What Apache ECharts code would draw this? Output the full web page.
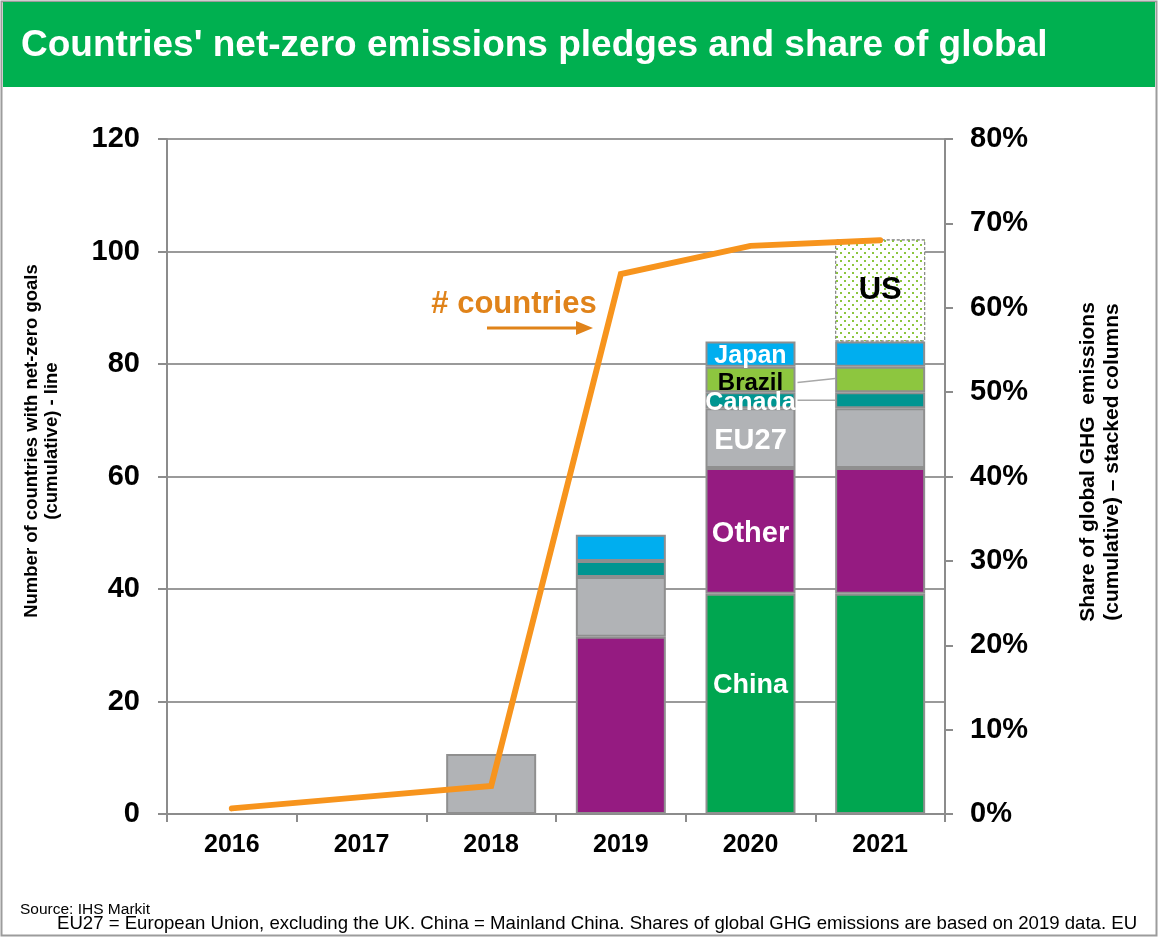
<!DOCTYPE html>
<html>
<head>
<meta charset="utf-8">
<script src="https://cdn.jsdelivr.net/npm/echarts@6/dist/echarts.min.js"></script>
<style>
  html, body { margin: 0; padding: 0; background: #fff; }
  #chart { width: 1158px; height: 938px; }
</style>
</head>
<body>
<div id="chart"></div>
<script>
// Years on the horizontal axis
const years = ['2016', '2017', '2018', '2019', '2020', '2021'];

// Cumulative number of countries with net-zero goals (left axis)
const countries = [1, 3, 5, 96, 101, 102];

// Share of global GHG emissions, % (right axis, stacked columns)
const china  = ['-', '-', '-', '-', 26.1, 26.1];
const other  = ['-', '-', '-', 21.0, 14.9, 14.9];
const eu27   = ['-', '-', 7.1, 7.1, 7.1, 7.1];
const canada = ['-', '-', '-', 1.9, 1.9, 1.9];
const brazil = ['-', '-', '-', '-', 3.0, 3.0];
const japan  = ['-', '-', '-', 3.1, 3.0, 3.0];
const us     = ['-', '-', '-', '-', '-', 12.1];

// Axis ticks
const leftTicks = { min: 0, max: 120, interval: 20 };
const rightTicks = { min: 0, max: 80, interval: 10 };

const FONT = 'Liberation Sans, Arial, sans-serif';
const NARROW = 'Liberation Sans Narrow, Arial Narrow, sans-serif';
const BORDER = '#8f8f8f';

// Attach an inside label to a single year of a series
function withLabel(values, idx, text, size, color, dy) {
  return values.map((v, i) => {
    if (i !== idx) return v;
    return {
      value: v,
      label: {
        show: true, position: 'inside', formatter: text, offset: [0, dy || 0],
        fontFamily: FONT, fontWeight: 'bold', fontSize: size, color: color
      }
    };
  });
}

function barSeries(name, data, color) {
  return {
    name, type: 'bar', stack: 'ghg', yAxisIndex: 1, barWidth: 90,
    data,
    itemStyle: { color, borderColor: BORDER, borderWidth: 2 },
    emphasis: { disabled: true },
    z: 2
  };
}

const chart = echarts.init(document.getElementById('chart'), null, { renderer: 'canvas' });

const option = {
  animation: false,
  backgroundColor: '#fff',
  grid: { left: 167, right: 213, top: 139, bottom: 124, containLabel: false },
  xAxis: {
    type: 'category',
    data: years,
    boundaryGap: true,
    axisLine: { lineStyle: { color: '#8c8c8c', width: 2 } },
    axisTick: { show: true, interval: 0, length: 8, lineStyle: { color: '#8c8c8c', width: 2 } },
    axisLabel: { fontFamily: FONT, fontWeight: 'bold', fontSize: 25, color: '#000', margin: 19 }
  },
  yAxis: [
    {
      type: 'value', position: 'left',
      min: leftTicks.min, max: leftTicks.max, interval: leftTicks.interval,
      axisLine: { show: true, lineStyle: { color: '#8c8c8c', width: 2 } },
      axisTick: { show: true, length: 9, lineStyle: { color: '#8c8c8c', width: 2 } },
      splitLine: { show: true, lineStyle: { color: '#9a9a9a', width: 2 } },
      axisLabel: { fontFamily: FONT, fontWeight: 'bold', fontSize: 29, color: '#000', margin: 27 }
    },
    {
      type: 'value', position: 'right',
      min: rightTicks.min, max: rightTicks.max, interval: rightTicks.interval,
      axisLine: { show: true, lineStyle: { color: '#8c8c8c', width: 2 } },
      axisTick: { show: true, length: 8, lineStyle: { color: '#8c8c8c', width: 2 } },
      splitLine: { show: false },
      axisLabel: { fontFamily: FONT, fontWeight: 'bold', fontSize: 29, color: '#000', margin: 25, formatter: '{value}%' }
    }
  ],
  series: [
    barSeries('China', withLabel(china, 4, 'China', 27, '#fff', -18), '#00A650'),
    barSeries('Other', withLabel(other, 4, 'Other', 29, '#fff', 3), '#951B81'),
    barSeries('EU27', withLabel(eu27, 4, 'EU27', 29, '#fff', 3), '#B1B3B6'),
    barSeries('Canada', withLabel(canada, 4, 'Canada', 25, '#fff', 3), '#009591'),
    barSeries('Brazil', withLabel(brazil, 4, 'Brazil', 24, '#000', 4), '#8DC63F'),
    barSeries('Japan', withLabel(japan, 4, 'Japan', 25, '#fff', 2), '#00AEEF'),
    {
      name: 'US', type: 'bar', stack: 'ghg', yAxisIndex: 1, barWidth: 90,
      data: withLabel(us, 5, 'US', 31, '#000', 0),
      itemStyle: {
        color: '#fff', borderColor: '#8a8a8a', borderWidth: 1, borderType: [3, 2],
        decal: {
          symbol: 'rect', symbolSize: 1, color: '#8DC63F',
          dashArrayX: [[2, 5.7], [0, 3.85, 2, 1.85]],
          dashArrayY: [2, 1.8]
        }
      },
      emphasis: { disabled: true },
      z: 2
    },
    {
      name: '# countries', type: 'line', yAxisIndex: 0,
      data: countries,
      symbol: 'none',
      lineStyle: { color: '#F7941D', width: 6, cap: 'round', join: 'miter' },
      itemStyle: { color: '#F7941D' },
      emphasis: { disabled: true },
      z: 5
    }
  ]
};

chart.setOption(option);

// Overlay: title band, frame, axis titles, annotations, notes
function buildGraphics() {
  const gfx = [];
  gfx.push({
    type: 'rect', z: 0, silent: true,
    shape: { x: 1.5, y: 1.5, width: 1155, height: 934 },
    style: { fill: null, stroke: '#9c9c9c', lineWidth: 2 }
  });
  gfx.push({
    type: 'rect', z: 1, silent: true,
    shape: { x: 3, y: 2, width: 1152, height: 85 },
    style: { fill: '#00B050' }
  });
  gfx.push({
    type: 'text', z: 2, silent: true, x: 21, y: 46,
    style: {
      text: "Countries' net-zero emissions pledges and share of global",
      fill: '#fff', font: 'bold 37px ' + FONT, textVerticalAlign: 'middle'
    }
  });
  // Left axis title
  gfx.push({
    type: 'text', silent: true, x: 42, y: 441, rotation: Math.PI / 2,
    style: {
      text: 'Number of countries with net-zero goals\n(cumulative) - line',
      fill: '#000', font: 'bold 18.5px ' + FONT, align: 'center', verticalAlign: 'middle',
      lineHeight: 20
    }
  });
  // Right axis title
  gfx.push({
    type: 'text', silent: true, x: 1100, y: 462, rotation: Math.PI / 2,
    style: {
      text: 'Share of global GHG  emissions\n(cumulative) \u2013 stacked columns',
      fill: '#000', font: 'bold 21px ' + FONT, align: 'center', verticalAlign: 'middle',
      lineHeight: 24
    }
  });
  // "# countries" callout with arrow
  gfx.push({
    type: 'text', silent: true, x: 514, y: 304,
    style: {
      text: '# countries', fill: '#E0831A', font: 'bold 31px ' + FONT,
      align: 'center', verticalAlign: 'middle'
    }
  });
  gfx.push({
    type: 'line', silent: true,
    shape: { x1: 487, y1: 328, x2: 578, y2: 328 },
    style: { stroke: '#E0831A', lineWidth: 3 }
  });
  gfx.push({
    type: 'polygon', silent: true,
    shape: { points: [[593, 328], [576, 321], [576, 335]] },
    style: { fill: '#E0831A' }
  });
  // Leader lines from the 2020 labels to the 2021 column
  const segCenter = (vals, idx) => {
    let base = 0;
    const stackOrder = [china, other, eu27, canada, brazil, japan];
    for (const s of stackOrder) {
      const v = s[idx] === '-' ? 0 : s[idx];
      if (s === vals) return base + v / 2;
      base += v;
    }
    return base;
  };
  const p20 = chart.convertToPixel({ xAxisIndex: 0, yAxisIndex: 1 }, [4, 0]);
  const p21 = chart.convertToPixel({ xAxisIndex: 0, yAxisIndex: 1 }, [5, 0]);
  [[brazil, 47, -4, 3], [canada, 47, 0, 0]].forEach(([s, off, dy, y0]) => {
    const yv = chart.convertToPixel({ yAxisIndex: 1 }, segCenter(s, 4)) + y0;
    gfx.push({
      type: 'line', silent: true,
      shape: { x1: p20[0] + off, y1: yv, x2: p21[0] - 45, y2: yv + dy },
      style: { stroke: '#a8a8a8', lineWidth: 1.5 }
    });
  });
  // Notes
  gfx.push({
    type: 'text', silent: true, x: 20, y: 910,
    style: { text: 'Source: IHS Markit', fill: '#000', font: '15.5px ' + NARROW, verticalAlign: 'middle' }
  });
  gfx.push({
    type: 'text', silent: true, x: 57, y: 924,
    style: {
      text: 'EU27 = European Union, excluding the UK. China = Mainland China. Shares of global GHG emissions are based on 2019 data. EU',
      fill: '#000', font: '18.6px ' + NARROW, verticalAlign: 'middle'
    }
  });
  return gfx;
}

chart.setOption({ graphic: { elements: buildGraphics() } });
</script>
</body>
</html>
